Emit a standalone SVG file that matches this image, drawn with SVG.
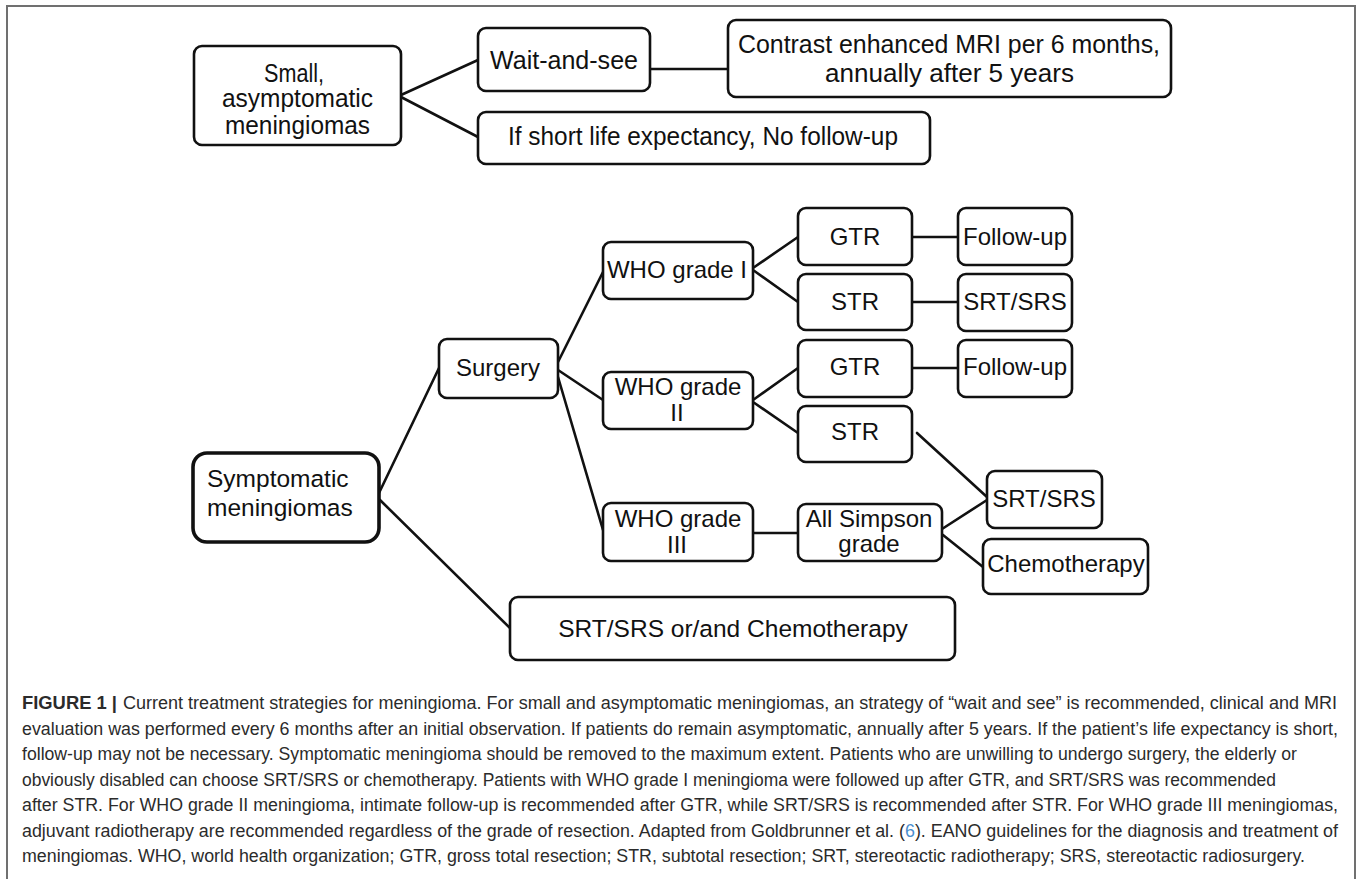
<svg xmlns="http://www.w3.org/2000/svg" width="1357" height="879" viewBox="0 0 1357 879">
<style>
.box{fill:#fff;stroke:#111;stroke-width:2.6}
.thick{stroke-width:3.6}
.t{font-family:"Liberation Sans",Arial,sans-serif;font-size:24px;fill:#111;text-anchor:middle}
.ts{font-family:"Liberation Sans",Arial,sans-serif;font-size:25px;fill:#111}
.ln{stroke:#111;stroke-width:2.6;fill:none;stroke-linecap:round}
.cap{font-family:"Liberation Sans",Arial,sans-serif;font-size:17.5px;fill:#2b2b2b}
.capb{font-weight:bold}
</style>
<rect x="0" y="0" width="1357" height="879" fill="#fff"/>
<rect x="7" y="6" width="1348" height="900" fill="none" stroke="#707070" stroke-width="2"/>

<g id="connectors">
<line class="ln" x1="401" y1="95" x2="478" y2="60"/>
<line class="ln" x1="401" y1="97" x2="478" y2="137"/>
<line class="ln" x1="650" y1="69" x2="728" y2="69"/>
<line class="ln" x1="379" y1="493" x2="439" y2="368"/>
<line class="ln" x1="380" y1="500" x2="510" y2="628"/>
<line class="ln" x1="558" y1="362" x2="603" y2="272"/>
<line class="ln" x1="558" y1="370" x2="603" y2="400"/>
<line class="ln" x1="558" y1="377" x2="603" y2="530"/>
<line class="ln" x1="753" y1="268" x2="798" y2="237"/>
<line class="ln" x1="753" y1="270" x2="798" y2="302"/>
<line class="ln" x1="912" y1="237" x2="958" y2="237"/>
<line class="ln" x1="912" y1="302" x2="958" y2="302"/>
<line class="ln" x1="753" y1="400" x2="798" y2="368"/>
<line class="ln" x1="753" y1="402" x2="798" y2="433"/>
<line class="ln" x1="912" y1="368" x2="958" y2="368"/>
<line class="ln" x1="917" y1="433" x2="987" y2="497"/>
<line class="ln" x1="753" y1="533" x2="798" y2="533"/>
<line class="ln" x1="942" y1="529" x2="987" y2="500"/>
<line class="ln" x1="943" y1="535" x2="983" y2="567"/>
</g>

<g id="n_small"><rect class="box" x="194" y="46" width="207" height="99" rx="8"/>
<text class="ts" x="264" y="82" textLength="60" lengthAdjust="spacingAndGlyphs">Small,</text>
<text class="ts" x="222" y="107" textLength="151" lengthAdjust="spacingAndGlyphs">asymptomatic</text>
<text class="ts" x="225" y="134" textLength="145" lengthAdjust="spacingAndGlyphs">meningiomas</text></g>
<g id="n_wait"><rect class="box" x="478" y="28" width="172" height="63" rx="8"/>
<text class="ts" x="490" y="69" textLength="148" lengthAdjust="spacingAndGlyphs">Wait-and-see</text></g>
<g id="n_contrast"><rect class="box" x="728" y="20" width="443" height="77" rx="8"/>
<text class="ts" x="738" y="53" textLength="422" lengthAdjust="spacingAndGlyphs">Contrast enhanced MRI  per 6 months,</text>
<text class="ts" x="825" y="82" textLength="249" lengthAdjust="spacingAndGlyphs">annually after 5 years</text></g>
<g id="n_ifshort"><rect class="box" x="478" y="112" width="452" height="52" rx="8"/>
<text class="ts" x="508" y="145" textLength="390" lengthAdjust="spacingAndGlyphs">If short life expectancy, No follow-up</text></g>

<g id="n_symp"><rect class="box thick" x="193" y="453" width="186" height="89" rx="14"/>
<text class="t" x="207" y="487" style="text-anchor:start;font-size:24.5px">Symptomatic</text>
<text class="t" x="207" y="516" style="text-anchor:start;font-size:24.5px">meningiomas</text></g>
<g id="n_surgery"><rect class="box" x="439" y="339" width="119" height="59" rx="8"/>
<text class="t" x="498" y="376">Surgery</text></g>
<g id="n_who1"><rect class="box" x="603" y="242" width="150" height="57" rx="8"/>
<text class="t" x="677" y="278">WHO grade I</text></g>
<g id="n_gtr1"><rect class="box" x="798" y="208" width="114" height="57" rx="8"/>
<text class="t" x="855" y="245">GTR</text></g>
<g id="n_fu1"><rect class="box" x="958" y="208" width="114" height="57" rx="8"/>
<text class="t" x="1015" y="245">Follow-up</text></g>
<g id="n_str1"><rect class="box" x="798" y="274" width="114" height="56" rx="8"/>
<text class="t" x="855" y="310">STR</text></g>
<g id="n_srt1"><rect class="box" x="958" y="274" width="114" height="57" rx="8"/>
<text class="t" x="1015" y="310">SRT/SRS</text></g>
<g id="n_gtr2"><rect class="box" x="798" y="340" width="114" height="57" rx="8"/>
<text class="t" x="855" y="375">GTR</text></g>
<g id="n_fu2"><rect class="box" x="958" y="340" width="114" height="57" rx="8"/>
<text class="t" x="1015" y="375">Follow-up</text></g>
<g id="n_who2"><rect class="box" x="603" y="372" width="150" height="57" rx="8"/>
<text class="t" x="678" y="395">WHO grade</text>
<text class="t" x="677" y="421">II</text></g>
<g id="n_str2"><rect class="box" x="798" y="406" width="114" height="56" rx="8"/>
<text class="t" x="855" y="440">STR</text></g>
<g id="n_who3"><rect class="box" x="603" y="503" width="150" height="58" rx="8"/>
<text class="t" x="678" y="527">WHO grade</text>
<text class="t" x="677" y="553">III</text></g>
<g id="n_all"><rect class="box" x="798" y="504" width="144" height="57" rx="8"/>
<text class="t" x="869" y="527">All Simpson</text>
<text class="t" x="869" y="552">grade</text></g>
<g id="n_srt2"><rect class="box" x="987" y="471" width="115" height="57" rx="8"/>
<text class="t" x="1044" y="507">SRT/SRS</text></g>
<g id="n_chemo"><rect class="box" x="983" y="539" width="165" height="55" rx="8"/>
<text class="t" x="1066" y="572">Chemotherapy</text></g>
<g id="n_srtor"><rect class="box" x="510" y="597" width="445" height="63" rx="8"/>
<text class="t" x="733" y="637" style="font-size:24.5px">SRT/SRS or/and Chemotherapy</text></g>

<g id="caption">
<text class="cap capb" x="22" y="709" textLength="95" lengthAdjust="spacingAndGlyphs">FIGURE 1 |</text>
<text class="cap" x="123" y="709" textLength="1214" lengthAdjust="spacingAndGlyphs">Current treatment strategies for meningioma. For small and asymptomatic meningiomas, an strategy of “wait and see” is recommended, clinical and MRI</text>
<text class="cap" x="22" y="735" textLength="1316" lengthAdjust="spacingAndGlyphs">evaluation was performed every 6 months after an initial observation. If patients do remain asymptomatic, annually after 5 years. If the patient’s life expectancy is short,</text>
<text class="cap" x="22" y="760" textLength="1275" lengthAdjust="spacingAndGlyphs">follow-up may not be necessary. Symptomatic meningioma should be removed to the maximum extent. Patients who are unwilling to undergo surgery, the elderly or</text>
<text class="cap" x="22" y="786" textLength="1254" lengthAdjust="spacingAndGlyphs">obviously disabled can choose SRT/SRS or chemotherapy. Patients with WHO grade I meningioma were followed up after GTR, and SRT/SRS was recommended</text>
<text class="cap" x="22" y="811" textLength="1316" lengthAdjust="spacingAndGlyphs">after STR. For WHO grade II meningioma, intimate follow-up is recommended after GTR, while SRT/SRS is recommended after STR. For WHO grade III meningiomas,</text>
<text class="cap" x="22" y="837" textLength="1316" lengthAdjust="spacingAndGlyphs">adjuvant radiotherapy are recommended regardless of the grade of resection. Adapted from Goldbrunner et al. (<tspan fill="#4a8fd0">6</tspan>). EANO guidelines for the diagnosis and treatment of</text>
<text class="cap" x="22" y="862" textLength="1283" lengthAdjust="spacingAndGlyphs">meningiomas. WHO, world health organization; GTR, gross total resection; STR, subtotal resection; SRT, stereotactic radiotherapy; SRS, stereotactic radiosurgery.</text>
</g>
</svg>
